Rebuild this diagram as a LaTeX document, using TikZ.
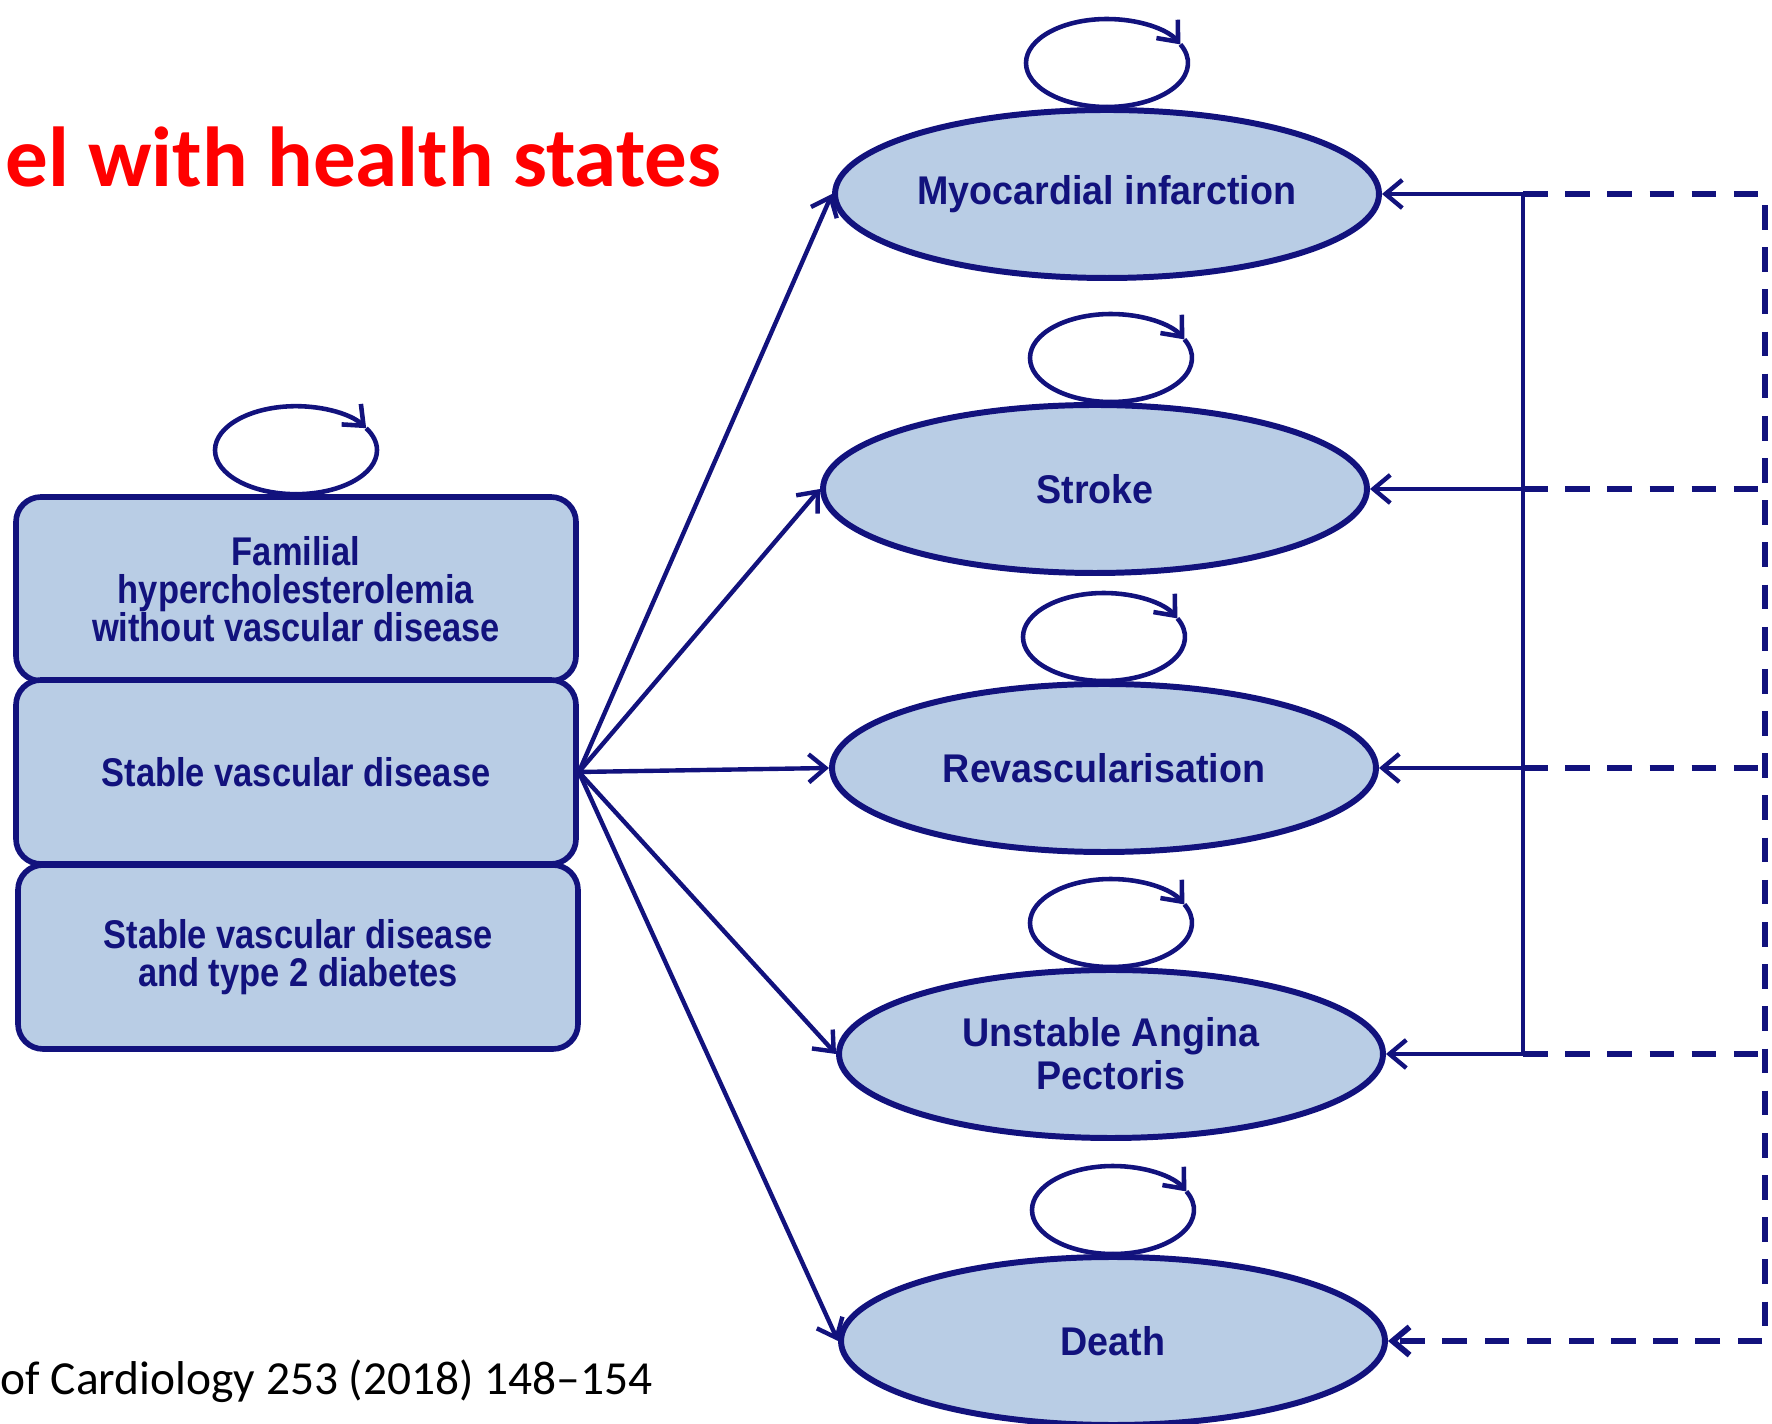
\documentclass[tikz,border=0pt]{standalone}
\usepackage{fontspec}
\setmainfont{Carlito}
\newfontfamily\boxfont{Liberation Sans}[FakeStretch=0.86]
\newfontfamily\ovalfont{Liberation Sans}[FakeStretch=0.94]
\usetikzlibrary{shapes.geometric,arrows.meta}
\definecolor{navy}{RGB}{18,18,125}
\definecolor{statefill}{RGB}{185,205,229}

\begin{document}
\begin{tikzpicture}[
    entry/.style={rectangle,rounded corners=0.25cm,draw=navy,line width=1.6pt,
      fill=statefill,text=navy,minimum width=5.6cm,minimum height=1.84cm,align=center,
      font=\boxfont\bfseries\fontsize{11.4pt}{10.9pt}\selectfont},
    healthstate/.style={ellipse,draw=navy,line width=1.7pt,fill=statefill,text=navy,
      inner sep=0pt,minimum width=5.44cm,minimum height=1.68cm,align=center,
      font=\ovalfont\bfseries\fontsize{11.4pt}{12.2pt}\selectfont},
    selfloop/.style={navy,line width=1.3pt,x radius=0.81cm,y radius=0.44cm},
    barb/.style={-{Straight Barb[length=4.8pt,width=8pt]}},
    flow/.style={navy,line width=1.25pt,barb},
    back/.style={navy,line width=1.7pt,dash pattern=on 7pt off 5pt}]
      \useasboundingbox (0,0) rectangle (17.72,-14.24);
      \node[anchor=base west,inner sep=0,text=red,font=\bfseries\fontsize{24.2pt}{28pt}\selectfont]
        (title) at (0.05,-1.87) {el with health states};
      \node[anchor=base west,inner sep=0,font=\fontsize{13.5pt}{16pt}\selectfont]
        (source) at (0,-13.94) {of Cardiology 253 (2018) 148–154};
      \node[entry] (fh) at (2.96,-5.89) {Familial\\hypercholesterolemia\\without vascular disease};
      \node[entry] (svd) at (2.96,-7.72) {Stable vascular disease};
      \node[entry] (svdt) at (2.98,-9.57) {Stable vascular disease\\and type 2 diabetes};
      \node[healthstate] (mi) at (11.07,-1.94) {Myocardial infarction};
      \node[healthstate] (stroke) at (10.95,-4.89) {Stroke};
      \node[healthstate] (revasc) at (11.04,-7.68) {Revascularisation};
      \node[healthstate] (uap) at (11.11,-10.54) {Unstable Angina\\Pectoris};
      \node[healthstate] (death) at (11.13,-13.41) {Death};
      \coordinate (spine) at (15.23,0);
      \coordinate (rim) at (17.65,0);
      \begin{scope}[selfloop]
        \draw[barb] (fh.north) arc[start angle=270,end angle=30];
        \draw (fh.north) arc[start angle=-90,end angle=30];
        \draw[barb] (mi.north) arc[start angle=270,end angle=25];
        \draw (mi.north) arc[start angle=-90,end angle=25];
        \draw[barb] ([xshift=1.6mm]stroke.north) arc[start angle=270,end angle=25];
        \draw ([xshift=1.6mm]stroke.north) arc[start angle=-90,end angle=25];
        \draw[barb] (revasc.north) arc[start angle=270,end angle=25];
        \draw (revasc.north) arc[start angle=-90,end angle=25];
        \draw[barb] (uap.north) arc[start angle=270,end angle=25];
        \draw (uap.north) arc[start angle=-90,end angle=25];
        \draw[barb] (death.north) arc[start angle=270,end angle=25];
        \draw (death.north) arc[start angle=-90,end angle=25];
      \end{scope}
      \begin{scope}[flow]
        \draw (svd.east) to (mi.west);
        \draw (svd.east) to (stroke.west);
        \draw (svd.east) to (revasc.west);
        \draw (svd.east) to (uap.west);
        \draw (svd.east) to (death.west);
        \draw (mi.east -| spine) to (mi.east);
        \draw (stroke.east -| spine) to (stroke.east);
        \draw (revasc.east -| spine) to (revasc.east);
        \draw (uap.east -| spine) to (uap.east);
      \end{scope}
      \draw[navy,line width=1.3pt] (mi.east -| spine) to (uap.east -| spine);
      \begin{scope}[back]
        \draw[barb] (mi.east -| spine) -- (mi.east -| rim) -- (death.east -| rim) -- (death.east);
        \draw (stroke.east -| spine) to (stroke.east -| rim);
        \draw (revasc.east -| spine) to (revasc.east -| rim);
        \draw (uap.east -| spine) to (uap.east -| rim);
      \end{scope}
    \end{tikzpicture}
\end{document}
